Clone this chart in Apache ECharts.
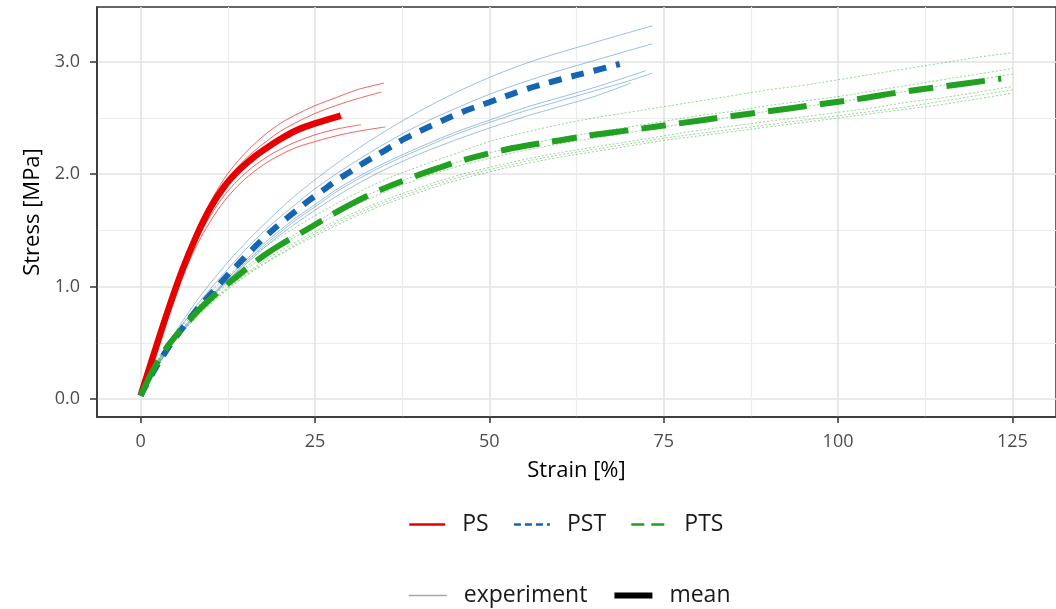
<!DOCTYPE html>
<html>
<head>
<meta charset="utf-8">
<script src="https://cdn.jsdelivr.net/npm/echarts@6/dist/echarts.min.js"></script>
<style>html,body{margin:0;padding:0;background:#fff}#c{width:1056px;height:609px}</style>
</head>
<body>
<div id="c"></div>
<script>
// ---- Data (strain %, stress MPa) ----
const xTicks = [0, 25, 50, 75, 100, 125];
const xMinorTicks = [12.5, 37.5, 62.5, 87.5, 112.5];
const yTicks = [0, 1, 2, 3];
const yMinorTicks = [0.5, 1.5, 2.5];

const psMean = [[0,0.03],[2,0.42],[4,0.8],[6,1.15],[8,1.45],[10,1.7],[12,1.89],[14,2.03],[16,2.14],[18,2.23],[20,2.31],[22,2.38],[24,2.43],[26,2.47],[28.7,2.52]];
const psExp1 = [[0,0.03],[2,0.44],[4,0.83],[6,1.18],[8,1.49],[10,1.75],[12,1.96],[14,2.12],[16,2.25],[18,2.36],[20,2.45],[22,2.52],[25,2.61],[28,2.68],[31,2.75],[34.9,2.81]];
const psExp2 = [[0,0.03],[2,0.43],[4,0.82],[6,1.17],[8,1.47],[10,1.72],[12,1.92],[14,2.07],[16,2.19],[18,2.29],[20,2.38],[22,2.45],[25,2.54],[28,2.61],[31,2.67],[34.5,2.73]];
const psExp3 = [[0,0.03],[2,0.42],[4,0.79],[6,1.12],[8,1.4],[10,1.63],[12,1.81],[14,1.95],[16,2.06],[18,2.15],[20,2.22],[22,2.28],[25,2.35],[28,2.4],[31.6,2.44]];
const psExp4 = [[0,0.03],[2,0.41],[4,0.77],[6,1.09],[8,1.36],[10,1.58],[12,1.76],[14,1.9],[16,2.01],[18,2.1],[20,2.17],[22,2.23],[25,2.29],[28,2.34],[31,2.38],[35.1,2.42]];
const psExp5 = [[0,0.03],[2,0.42],[4,0.8],[6,1.14],[8,1.44],[10,1.69],[12,1.88],[14,2.02],[16,2.13],[18,2.22],[20,2.3],[22,2.36],[25,2.43],[29,2.5]];

const pstMean = [[0,0.03],[2,0.26],[4,0.46],[6,0.63],[8,0.79],[10,0.93],[12,1.07],[14,1.2],[16,1.33],[18,1.45],[20,1.56],[22,1.66],[24,1.76],[26,1.85],[28,1.94],[30,2.02],[32,2.1],[35,2.21],[38,2.32],[42,2.44],[46,2.55],[50,2.64],[55,2.75],[60,2.84],[65,2.92],[68.7,2.98]];
const pstExp1 = [[0,0.03],[2,0.28],[4,0.5],[6,0.69],[8,0.87],[10,1.03],[12,1.18],[14,1.32],[16,1.45],[18,1.57],[20,1.69],[22,1.8],[25,1.95],[28,2.09],[31,2.22],[35,2.38],[40,2.56],[45,2.72],[50,2.86],[55,2.98],[60,3.08],[65,3.17],[70,3.26],[73.4,3.32]];
const pstExp2 = [[0,0.03],[2,0.27],[4,0.48],[6,0.66],[8,0.83],[10,0.98],[12,1.12],[14,1.26],[16,1.39],[18,1.51],[20,1.62],[22,1.72],[25,1.87],[28,2.0],[31,2.12],[35,2.27],[40,2.44],[45,2.58],[50,2.71],[55,2.82],[60,2.92],[65,3.01],[70,3.1],[73.4,3.16]];
const pstExp3 = [[0,0.03],[2,0.26],[4,0.45],[6,0.62],[8,0.77],[10,0.91],[12,1.04],[14,1.17],[16,1.29],[18,1.4],[20,1.5],[22,1.6],[25,1.73],[28,1.86],[31,1.97],[35,2.1],[40,2.24],[45,2.37],[50,2.48],[55,2.59],[60,2.68],[65,2.77],[70,2.87],[72.4,2.92]];
const pstExp4 = [[0,0.03],[2,0.25],[4,0.44],[6,0.61],[8,0.76],[10,0.9],[12,1.03],[14,1.15],[16,1.27],[18,1.38],[20,1.48],[22,1.58],[25,1.71],[28,1.84],[31,1.95],[35,2.08],[40,2.22],[45,2.35],[50,2.46],[55,2.56],[60,2.65],[65,2.74],[70,2.83],[73.4,2.9]];
const pstExp5 = [[0,0.03],[2,0.25],[4,0.44],[6,0.6],[8,0.75],[10,0.89],[12,1.02],[14,1.14],[16,1.25],[18,1.36],[20,1.46],[22,1.55],[25,1.68],[28,1.8],[31,1.91],[35,2.04],[40,2.18],[45,2.3],[50,2.41],[55,2.51],[60,2.6],[65,2.69],[70.3,2.81]];

const ptsMean = [[0,0.03],[2,0.28],[4,0.48],[6,0.63],[8,0.77],[10,0.89],[12,1.0],[14,1.1],[16,1.2],[18,1.29],[20,1.37],[22.8,1.47],[25,1.55],[28,1.66],[31,1.76],[34,1.85],[38,1.95],[42,2.04],[46,2.12],[51,2.2],[55,2.25],[60,2.3],[65,2.35],[70,2.39],[77,2.45],[84,2.51],[90,2.56],[96,2.61],[103,2.67],[109,2.73],[115,2.78],[121,2.83],[123.4,2.85]];
const ptsExp1 = [[0,0.03],[2,0.3],[4,0.51],[6,0.67],[8,0.81],[10,0.95],[12,1.07],[15,1.22],[18,1.36],[21,1.48],[25,1.63],[30,1.8],[35,1.95],[40,2.07],[45,2.18],[50,2.29],[55,2.37],[60,2.44],[65,2.5],[70,2.55],[75,2.6],[80,2.65],[85,2.7],[90,2.75],[95,2.79],[100,2.84],[105,2.89],[110,2.94],[115,2.99],[120,3.04],[125,3.08]];
const ptsExp2 = [[0,0.03],[2,0.29],[4,0.49],[6,0.65],[8,0.78],[10,0.91],[12,1.02],[15,1.17],[18,1.3],[21,1.42],[25,1.57],[30,1.74],[35,1.88],[40,2.0],[45,2.1],[50,2.19],[55,2.26],[60,2.32],[65,2.37],[70,2.42],[75,2.47],[80,2.52],[85,2.56],[90,2.61],[95,2.65],[100,2.69],[105,2.74],[110,2.79],[115,2.84],[120,2.89],[125,2.94]];
const ptsExp3 = [[0,0.03],[2,0.28],[4,0.48],[6,0.63],[8,0.77],[10,0.89],[12,1.0],[15,1.15],[18,1.28],[21,1.4],[25,1.54],[30,1.7],[35,1.84],[40,1.96],[45,2.06],[50,2.14],[55,2.21],[60,2.27],[65,2.32],[70,2.37],[75,2.42],[80,2.47],[85,2.51],[90,2.56],[95,2.6],[100,2.64],[105,2.69],[110,2.74],[115,2.79],[120,2.84],[125,2.89]];
const ptsExp4 = [[0,0.03],[2,0.27],[4,0.46],[6,0.61],[8,0.74],[10,0.86],[12,0.97],[15,1.11],[18,1.24],[21,1.35],[25,1.49],[30,1.64],[35,1.77],[40,1.88],[45,1.98],[50,2.06],[55,2.13],[60,2.19],[65,2.24],[70,2.29],[75,2.34],[80,2.39],[85,2.43],[90,2.47],[95,2.51],[100,2.55],[105,2.59],[110,2.64],[115,2.68],[120,2.73],[125,2.78]];
const ptsExp5 = [[0,0.03],[2,0.27],[4,0.45],[6,0.6],[8,0.73],[10,0.85],[12,0.96],[15,1.1],[18,1.22],[21,1.33],[25,1.47],[30,1.62],[35,1.75],[40,1.86],[45,1.96],[50,2.04],[55,2.11],[60,2.17],[65,2.22],[70,2.27],[75,2.32],[80,2.36],[85,2.4],[90,2.44],[95,2.48],[100,2.52],[105,2.56],[110,2.6],[115,2.65],[120,2.7],[125,2.75]];
const ptsExp6 = [[0,0.03],[2,0.26],[4,0.45],[6,0.6],[8,0.72],[10,0.84],[12,0.95],[15,1.09],[18,1.21],[21,1.32],[25,1.45],[30,1.6],[35,1.73],[40,1.84],[45,1.94],[50,2.02],[55,2.09],[60,2.15],[65,2.2],[70,2.25],[75,2.3],[80,2.34],[85,2.38],[90,2.42],[95,2.46],[100,2.5],[105,2.54],[110,2.58],[115,2.62],[120,2.67],[125,2.72]];

// ---- Styles ----
const RED = '#e60000', BLUE = '#1565b3', GREEN = '#22a022';
const FONT = '"Open Sans", "Noto Sans", sans-serif';

function expSeries(name, data, color, type, opacity) {
  return { name, type: 'line', data, symbol: 'none', smooth: 0.35, silent: true,
    lineStyle: { color, width: 1, type, opacity }, z: 2 };
}
function meanSeries(name, data, color, width, type) {
  return { name, type: 'line', data, symbol: 'none', smooth: 0.35, silent: true,
    lineStyle: { color, width, type, cap: 'butt' }, z: 3 };
}

const series = [
  expSeries('PS e1', psExp1, '#ee3030', 'solid', 0.75),
  expSeries('PS e2', psExp2, '#ee3030', 'solid', 0.75),
  expSeries('PS e3', psExp3, '#ee3030', 'solid', 0.75),
  expSeries('PS e4', psExp4, '#ee3030', 'solid', 0.75),
  expSeries('PS e5', psExp5, '#ee3030', 'solid', 0.75),
  expSeries('PST e1', pstExp1, '#5b95d0', 'solid', 0.6),
  expSeries('PST e2', pstExp2, '#5b95d0', 'solid', 0.6),
  expSeries('PST e3', pstExp3, '#5b95d0', 'solid', 0.6),
  expSeries('PST e4', pstExp4, '#5b95d0', 'solid', 0.6),
  expSeries('PST e5', pstExp5, '#5b95d0', 'solid', 0.6),
  expSeries('PTS e1', ptsExp1, '#4cb84c', [2, 2], 0.6),
  expSeries('PTS e2', ptsExp2, '#4cb84c', [2, 2], 0.6),
  expSeries('PTS e3', ptsExp3, '#4cb84c', [2, 2], 0.6),
  expSeries('PTS e4', ptsExp4, '#4cb84c', [2, 2], 0.6),
  expSeries('PTS e5', ptsExp5, '#4cb84c', [2, 2], 0.6),
  expSeries('PTS e6', ptsExp6, '#4cb84c', [2, 2], 0.6),
  meanSeries('PS', psMean, RED, 6.5, 'solid'),
  meanSeries('PST', pstMean, BLUE, 6, [13, 10]),
  meanSeries('PTS', ptsMean, GREEN, 6, [39, 13, 25, 13]),
  { name: 'experiment', type: 'line', data: [], symbol: 'none', lineStyle: { color: '#a8a8a8', width: 1.5 } },
  { name: 'mean', type: 'line', data: [], symbol: 'none', lineStyle: { color: '#000', width: 6 } }
];

const legendText = { fontFamily: FONT, fontSize: 23, color: '#1a1a1a', padding: [0, 0, 0, 12] };
const noSymbol = { opacity: 0, color: 'transparent', borderWidth: 0 };

const option = {
  animation: false,
  backgroundColor: '#fff',
  grid: { left: 97, top: 7, right: -5, bottom: 192, containLabel: false,
    show: true, borderColor: '#333', borderWidth: 1.5, backgroundColor: 'transparent' },
  xAxis: [
    { type: 'value', min: -6.25, max: 131.25,
      name: 'Strain [%]', nameLocation: 'middle', nameGap: 43,
      nameTextStyle: { fontFamily: FONT, fontSize: 22, color: '#000' },
      axisLine: { show: true, onZero: false, lineStyle: { color: '#333', width: 1.5 } },
      axisTick: { show: true, length: 6, customValues: xTicks, lineStyle: { color: '#333', width: 1.5 } },
      axisLabel: { customValues: xTicks, margin: 16, fontFamily: FONT, fontSize: 18, color: '#4d4d4d' },
      splitLine: { show: true, lineStyle: { color: '#e3e3e3', width: 1.6 } } },
    { type: 'value', min: -6.25, max: 131.25, position: 'bottom',
      axisLine: { show: false }, axisLabel: { show: false },
      axisTick: { show: false, customValues: xMinorTicks },
      splitLine: { show: true, lineStyle: { color: '#ececec', width: 1.2 } } }
  ],
  yAxis: [
    { type: 'value', min: -0.16, max: 3.487,
      name: 'Stress [MPa]', nameLocation: 'middle', nameGap: 52, nameRotate: 90,
      nameTextStyle: { fontFamily: FONT, fontSize: 22, color: '#000' },
      axisLine: { show: true, onZero: false, lineStyle: { color: '#333', width: 1.5 } },
      axisTick: { show: true, length: 7, customValues: yTicks, lineStyle: { color: '#333', width: 1.5 } },
      axisLabel: { customValues: yTicks, margin: 17, fontFamily: FONT, fontSize: 18, color: '#4d4d4d',
        formatter: v => Number(v).toFixed(1) },
      splitLine: { show: true, lineStyle: { color: '#e3e3e3', width: 1.6 } } },
    { type: 'value', min: -0.16, max: 3.487, position: 'left',
      axisLine: { show: false }, axisLabel: { show: false },
      axisTick: { show: false, customValues: yMinorTicks },
      splitLine: { show: true, lineStyle: { color: '#ececec', width: 1.2 } } }
  ],
  legend: [
    { left: 408, top: 513, padding: 0, orient: 'horizontal', itemWidth: 36, itemHeight: 14, itemGap: 24,
      selectedMode: false, textStyle: legendText, itemStyle: noSymbol,
      data: [
        { name: 'PS', itemStyle: noSymbol, lineStyle: { color: RED, width: 2.5, type: 'solid' } },
        { name: 'PST', itemStyle: noSymbol, lineStyle: { color: BLUE, width: 2.5, type: [7, 4] } },
        { name: 'PTS', itemStyle: noSymbol, lineStyle: { color: GREEN, width: 2.5, type: [13, 7] } }
      ] },
    { left: 408, top: 584, padding: 0, orient: 'horizontal', itemWidth: 38, itemHeight: 14, itemGap: 24,
      selectedMode: false, textStyle: legendText, itemStyle: noSymbol,
      data: [
        { name: 'experiment', itemStyle: noSymbol, lineStyle: { color: '#a8a8a8', width: 1.5 } },
        { name: 'mean', itemStyle: noSymbol, lineStyle: { color: '#000', width: 6 } }
      ] }
  ],
  series
};

const chart = echarts.init(document.getElementById('c'), null, { renderer: 'canvas' });
chart.setOption(option);
</script>
</body>
</html>
